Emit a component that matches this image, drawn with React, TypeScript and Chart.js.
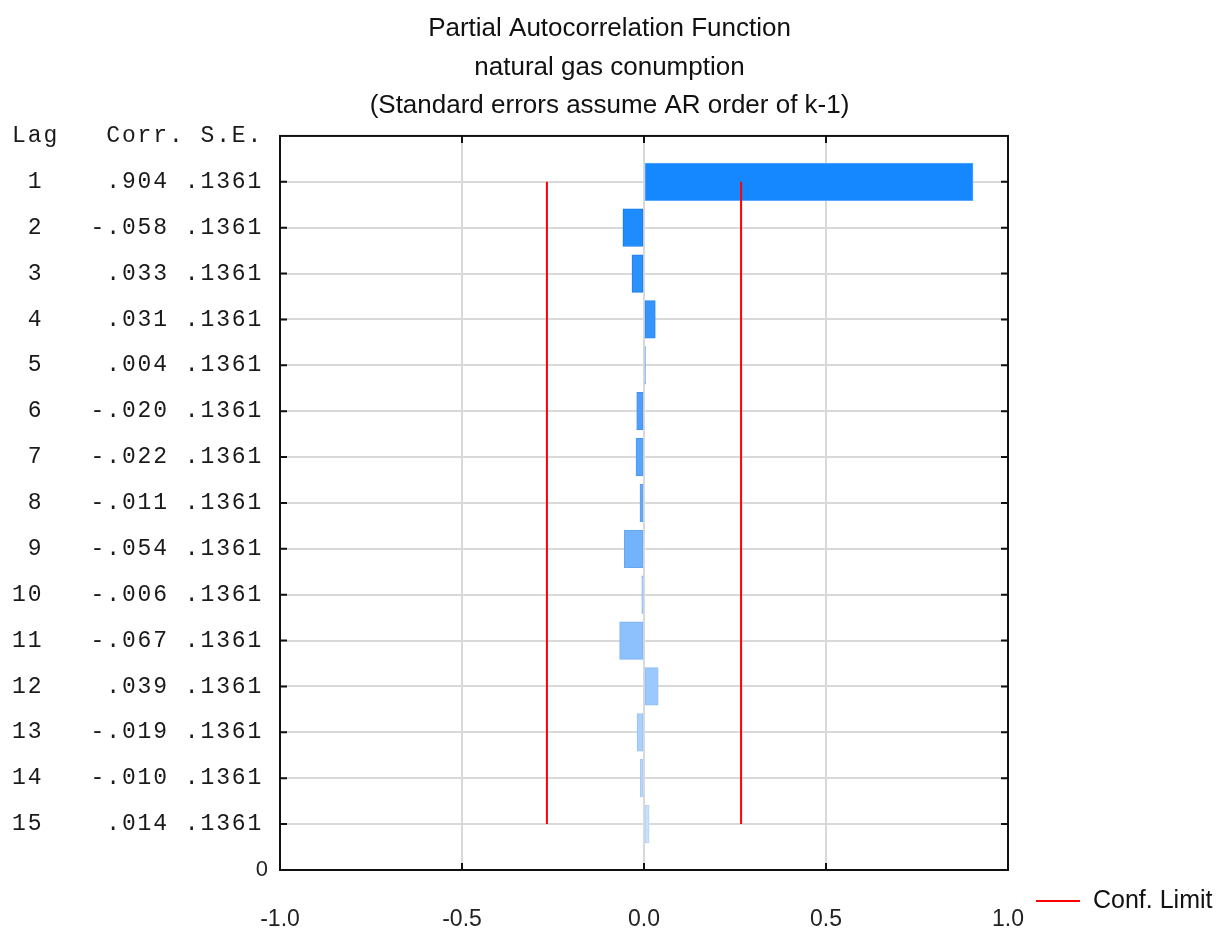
import { useEffect, useRef } from "react";
import { Chart, registerables } from "chart.js";

Chart.register(...registerables);

// ---- data ----
const titleLines = [
  "Partial Autocorrelation Function",
  "natural gas conumption",
  "(Standard errors assume AR order of k-1)",
];
const lags = [1, 2, 3, 4, 5, 6, 7, 8, 9, 10, 11, 12, 13, 14, 15];
const corrLabels = [".904", "-.058", ".033", ".031", ".004", "-.020", "-.022", "-.011", "-.054", "-.006", "-.067", ".039", "-.019", "-.010", ".014"];
const seLabels = [".1361", ".1361", ".1361", ".1361", ".1361", ".1361", ".1361", ".1361", ".1361", ".1361", ".1361", ".1361", ".1361", ".1361", ".1361"];
const barValues = [0.904, -0.058, -0.033, 0.031, 0.004, -0.02, -0.022, -0.011, -0.054, -0.006, -0.067, 0.039, -0.019, -0.01, 0.014];
const confLimit = 0.2667;
const xTickValues = [-1, -0.5, 0, 0.5, 1];
const headerText = "Lag   Corr. S.E.";
const legendLabel = "Conf. Limit";

// ---- styles ----
const barFill = [
  "#1688ff", "#1f8cfd", "#2a91fd", "#3595fd", "#409afc", "#4ca0fc", "#58a6fc", "#64acfc",
  "#72b3fc", "#7fbafd", "#8cc1fd", "#9bc9fd", "#aad1fe", "#b8d9fe", "#c8e2fe",
];
const barEdge = [
  "#5aa8ff", "#1477ea", "#1e7deb", "#2a84ec", "#358bee", "#4392ef", "#4f98f0", "#5a9ff1",
  "#67a6f2", "#73adf3", "#7fb3f4", "#8dbbf5", "#99c2f6", "#a6c9f7", "#b3d0f8",
];
const SANS = "'Liberation Sans', Arial, sans-serif";
const MONO = "'Liberation Mono', 'Courier New', monospace";

const framePlugin = {
  id: "frameAndTable",
  afterDraw(chart: any) {
    const { ctx, chartArea } = chart;
    const xs = chart.scales.x;
    const ys = chart.scales.y;
    const { left, right, top, bottom } = chartArea;
    ctx.save();
    // frame
    ctx.strokeStyle = "#111";
    ctx.lineWidth = 2;
    ctx.strokeRect(left, top, right - left, bottom - top);
    // inner ticks
    ctx.beginPath();
    lags.forEach((l) => {
      const y = ys.getPixelForValue(l);
      ctx.moveTo(left, y);
      ctx.lineTo(left + 7, y);
      ctx.moveTo(right, y);
      ctx.lineTo(right - 7, y);
    });
    xTickValues.slice(1, -1).forEach((v) => {
      const x = xs.getPixelForValue(v);
      ctx.moveTo(x, top);
      ctx.lineTo(x, top + 7);
      ctx.moveTo(x, bottom);
      ctx.lineTo(x, bottom - 7);
    });
    ctx.stroke();

    // table text
    ctx.fillStyle = "#1a1a1a";
    ctx.font = `23px ${MONO}`;
    (ctx as any).letterSpacing = "1.9px";
    ctx.textAlign = "left";
    ctx.textBaseline = "middle";
    ctx.fillText(headerText, 12, top);
    lags.forEach((l, i) => {
      const row =
        String(l).padStart(2, " ") +
        "   " +
        corrLabels[i].padStart(5, " ") +
        " " +
        seLabels[i];
      ctx.fillText(row, 12, ys.getPixelForValue(l));
    });
    (ctx as any).letterSpacing = "0px";

    // legend
    const ly = 901;
    ctx.strokeStyle = "#ff0000";
    ctx.lineWidth = 2;
    ctx.beginPath();
    ctx.moveTo(1036, ly);
    ctx.lineTo(1080, ly);
    ctx.stroke();
    ctx.fillStyle = "#111";
    ctx.font = `25px ${SANS}`;
    ctx.fillText(legendLabel, 1093, ly);
    ctx.restore();
  },
};

export default function App() {
  const ref = useRef<HTMLCanvasElement | null>(null);
  useEffect(() => {
    if (!ref.current) return;
    const chart = new Chart(ref.current, {
      type: "bar",
      data: {
        datasets: [
          {
            type: "line",
            label: legendLabel,
            data: [
              { x: confLimit, y: lags[0] },
              { x: confLimit, y: lags[lags.length - 1] },
            ],
            borderColor: "#ff0000",
            borderWidth: 2,
            pointRadius: 0,
            fill: false,
            order: 0,
          } as any,
          {
            type: "line",
            label: legendLabel,
            data: [
              { x: -confLimit, y: lags[0] },
              { x: -confLimit, y: lags[lags.length - 1] },
            ],
            borderColor: "#ff0000",
            borderWidth: 2,
            pointRadius: 0,
            fill: false,
            order: 0,
          } as any,
          {
            type: "bar",
            label: "PACF",
            data: lags.map((l, i) => ({ x: barValues[i], y: l })),
            backgroundColor: barFill,
            borderColor: barEdge,
            borderWidth: 1,
            borderSkipped: false,
            barThickness: 37.6,
            order: 1,
          } as any,
        ],
      },
      options: {
        indexAxis: "y",
        responsive: false,
        animation: false,
        events: [],
        layout: { padding: 0 },
        plugins: {
          legend: { display: false },
          tooltip: { enabled: false },
          title: {
            display: true,
            text: titleLines,
            color: "#111",
            font: { family: SANS, size: 26, weight: "normal", lineHeight: 1.48 },
            padding: { top: 10, bottom: 10.5 },
          },
        },
        scales: {
          x: {
            type: "linear",
            min: -1,
            max: 1,
            offset: false,
            afterBuildTicks: (s: any) => {
              s.ticks = xTickValues.map((v) => ({ value: v }));
            },
            afterFit: (s: any) => {
              s.height = 59;
            },
            ticks: {
              padding: 36,
              color: "#222",
              font: { family: SANS, size: 23 },
              callback: (v: any) => Number(v).toFixed(1),
              maxRotation: 0,
            },
            grid: { color: "#d9d9d9", lineWidth: 2, drawTicks: false, offset: false },
            border: { display: false },
          },
          y: {
            type: "linear",
            min: 0,
            max: 16,
            reverse: true,
            offset: false,
            afterBuildTicks: (s: any) => {
              s.ticks = [0, ...lags, 16].map((v) => ({ value: v }));
            },
            afterFit: (s: any) => {
              s.width = 280;
            },
            ticks: {
              padding: 12,
              color: "#222",
              font: { family: SANS, size: 22 },
              callback: (v: any) => (Number(v) === 16 ? "0" : ""),
            },
            grid: {
              color: (c: any) =>
                c.tick && (c.tick.value === 0 || c.tick.value === 16) ? "rgba(0,0,0,0)" : "#d9d9d9",
              lineWidth: 2,
              drawTicks: false,
              offset: false,
            },
            border: { display: false },
          },
          yRight: {
            type: "linear",
            position: "right",
            display: true,
            afterFit: (s: any) => {
              s.width = 211;
            },
            ticks: { display: false },
            grid: { display: false, drawTicks: false },
            border: { display: false },
          },
        },
      },
      plugins: [framePlugin],
    } as any);
    return () => chart.destroy();
  }, []);
  return (
    <div style={{ position: "absolute", left: 0, top: 0, width: 1219, height: 929, background: "#fff" }}>
      <canvas ref={ref} width={1219} height={929} style={{ display: "block" }} />
    </div>
  );
}
